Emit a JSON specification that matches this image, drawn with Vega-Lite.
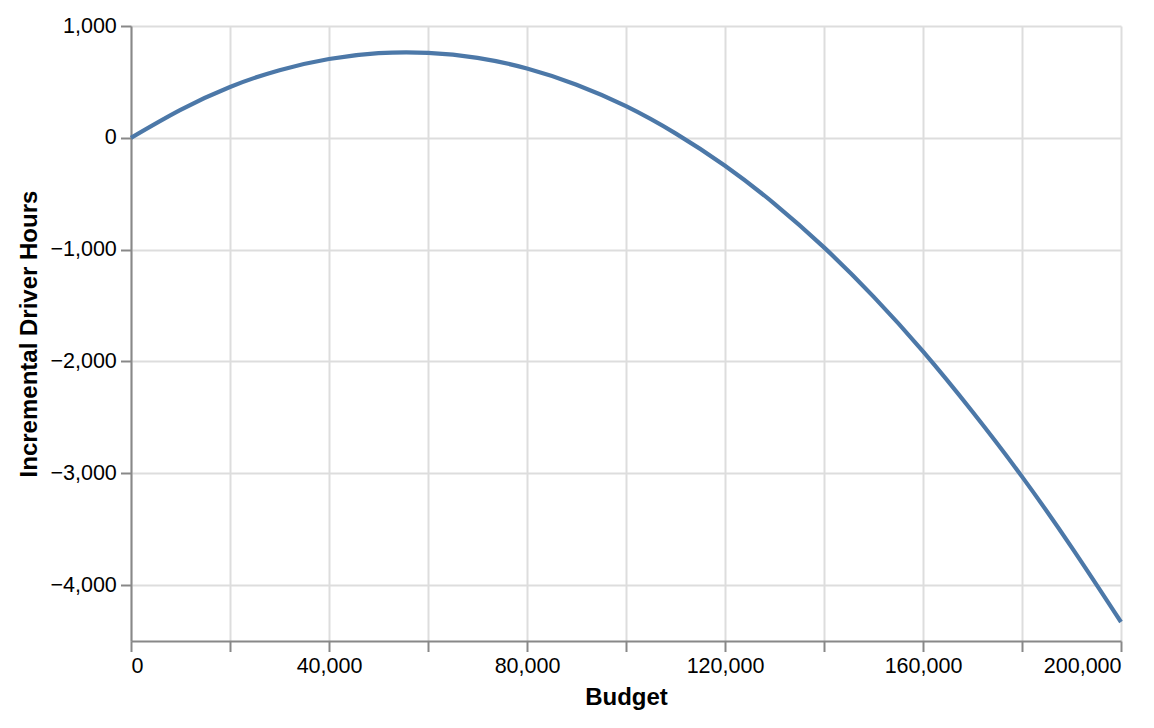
{
  "$schema": "https://vega.github.io/schema/vega-lite/v6.json",
  "description": "Incremental driver hours against budget.",
  "width": 990,
  "height": 615,
  "autosize": {"type": "none"},
  "padding": {"left": 131, "top": 26, "right": 33, "bottom": 87},
  "data": {
    "values": [
      {"budget": 0, "hours": 0},
      {"budget": 10000, "hours": 250},
      {"budget": 20000, "hours": 455},
      {"budget": 30000, "hours": 605},
      {"budget": 40000, "hours": 705},
      {"budget": 50000, "hours": 757},
      {"budget": 60000, "hours": 760},
      {"budget": 70000, "hours": 715},
      {"budget": 80000, "hours": 620},
      {"budget": 90000, "hours": 475},
      {"budget": 100000, "hours": 283},
      {"budget": 110000, "hours": 40},
      {"budget": 120000, "hours": -250},
      {"budget": 130000, "hours": -590},
      {"budget": 140000, "hours": -980},
      {"budget": 150000, "hours": -1420},
      {"budget": 160000, "hours": -1910},
      {"budget": 170000, "hours": -2450},
      {"budget": 180000, "hours": -3030},
      {"budget": 190000, "hours": -3660},
      {"budget": 200000, "hours": -4330}
    ]
  },
  "mark": {"type": "line", "interpolate": "natural", "strokeWidth": 4.2, "color": "#4c78a8"},
  "encoding": {
    "x": {
      "field": "budget",
      "type": "quantitative",
      "title": "Budget",
      "scale": {"domain": [0, 200000], "nice": false},
      "axis": {"values": [0, 20000, 40000, 60000, 80000, 100000, 120000, 140000, 160000, 180000, 200000]}
    },
    "y": {
      "field": "hours",
      "type": "quantitative",
      "title": "Incremental Driver Hours",
      "scale": {"domain": [-4500, 1000], "nice": false, "zero": false},
      "axis": {"values": [-4000, -3000, -2000, -1000, 0, 1000]}
    }
  },
  "config": {
    "font": "Liberation Sans",
    "axis": {
      "labelFontSize": 21.5,
      "titleFontSize": 24,
      "titleFontWeight": "bold",
      "labelColor": "#000",
      "titleColor": "#000",
      "tickSize": 10.5,
      "tickWidth": 2,
      "tickColor": "#888",
      "domainWidth": 2,
      "domainColor": "#888",
      "gridWidth": 2,
      "gridColor": "#ddd",
      "labelPadding": 4.2,
      "titlePadding": 8.4
    },
    "view": {"stroke": null}
  }
}
